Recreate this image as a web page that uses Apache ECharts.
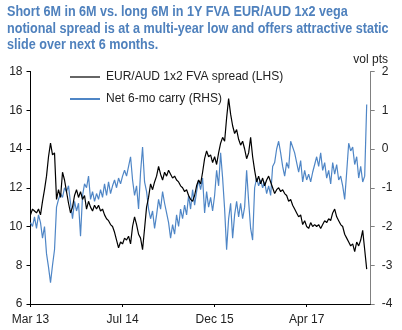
<!DOCTYPE html>
<html>
<head>
<meta charset="utf-8">
<script src="https://cdn.jsdelivr.net/npm/echarts@6/dist/echarts.min.js"></script>
<style>
  html, body { margin: 0; padding: 0; background: #fff; }
  #chart { width: 402px; height: 330px; }
</style>
</head>
<body>
<div id="chart"></div>
<script>
// Date labels shown along the time axis, one every `tickEvery` observations
var tickLabels = ['Mar 13', 'Jul 14', 'Dec 15', 'Apr 17'];
var tickEvery = 46;
var axisSlots = 171;

var headline = 'Short 6M in 6M vs. long 6M in 1Y FVA EUR/AUD 1x2 vega\n' +
  'notional spread is at a multi-year low and offers attractive static\n' +
  'slide over next 6 months.';

// EUR/AUD 1x2 FVA spread (left axis, vol)
var fvaSpread = [
  10.6, 10.9, 10.8, 10.7, 10.9, 10.6, 11.3, 11.9, 12.6, 13.6,
  14.3, 13.7, 13.8, 11.4, 11.9, 11.5, 12.8, 12.4, 11.8, 11.2,
  10.7, 11.0, 11.6, 11.9, 11.5, 11.8, 11.4, 11.6, 10.9, 11.3,
  11.0, 10.8, 11.1, 10.9, 11.1, 10.8, 10.9, 10.6, 10.4, 10.3,
  10.1, 10.0, 9.7, 9.3, 8.9, 9.2, 9.1, 9.4, 9.3, 9.5,
  9.1, 10.0, 10.5, 10.1, 9.6, 9.4, 8.8, 9.9, 11.0, 11.5,
  12.2, 11.9, 12.3, 12.6, 13.1, 12.7, 12.4, 12.8, 12.6, 12.9,
  12.7, 12.5, 12.6, 12.4, 12.3, 12.1, 12.0, 11.8, 11.9, 11.6,
  11.4, 11.3, 11.6, 12.1, 12.4, 12.2, 12.8, 13.5, 13.9, 13.6,
  13.7, 13.3, 13.6, 13.2, 13.8, 14.3, 14.6, 14.4, 15.6, 16.6,
  15.8, 15.2, 14.8, 15.0, 14.5, 14.2, 14.4, 14.0, 13.5, 13.8,
  14.6, 13.6, 12.9, 12.3, 12.6, 12.2, 12.5, 12.1, 12.4, 12.6,
  12.3, 12.0, 11.7, 11.9, 12.0, 11.8, 11.9, 11.7, 11.6, 11.3,
  11.4, 11.1, 10.9, 10.7, 10.5, 10.6, 10.1, 10.3, 10.0, 9.9,
  10.2, 10.0, 10.1, 10.0, 10.1, 9.9, 10.1, 10.3, 10.2, 10.4,
  10.3, 10.7, 10.9, 10.5, 10.3, 10.1, 10.0, 9.6, 9.4, 9.2,
  9.0, 9.1, 8.7, 9.2, 9.0, 9.3, 9.8, 8.8, 7.8
];

// Net 6-month carry (right axis, vol pts)
var netCarry = [
  -1.9, -2.0, -1.75, -2.05, -1.7, -1.9, -2.3, -2.0, -2.7, -3.05,
  -3.45, -3.0, -2.6, -1.5, -1.3, -1.15, -1.25, -1.0, -1.1, -0.95,
  -1.4, -1.8, -1.35, -1.6, -1.4, -2.25, -1.2, -0.9, -1.0, -0.7,
  -1.3, -1.1, -1.35, -1.15, -1.3, -1.05, -1.25, -0.9, -1.2, -0.85,
  -1.15, -0.95, -0.8, -1.0, -0.75, -0.9, -0.7, -0.55, -0.7, -0.45,
  -0.2, -0.8, -1.2, -0.95, -1.55, -0.6, 0.05, -0.85, -1.1, -1.55,
  -1.8, -1.6, -2.05, -1.7, -1.3, -1.55, -1.1, -1.4, -1.65, -1.9,
  -2.3, -1.95, -2.2, -1.7, -2.0, -1.55, -1.8, -1.45, -1.7, -1.2,
  -1.55, -1.05, -1.45, -1.1, -0.8, -1.05, -0.75, -1.65, -1.1, -1.5,
  -1.25, -1.6, -1.2, -0.55, -0.95, -0.1, -0.75, -1.55, -2.6, -1.8,
  -1.4, -2.3, -1.7, -1.35, -1.75, -1.4, -1.8, -1.5, -0.55, -1.35,
  -2.05, -2.35, -1.0, -0.75, -0.95, -0.8, -1.0, -0.85, -1.15, -0.95,
  -1.2, -0.45, -0.35, 0.0, 0.2, -0.1, -0.45, -0.7, -0.35, -0.5,
  0.2, 0.05, -0.1, -0.35, -0.6, -0.3, -0.85, -0.55, -0.8, -0.65,
  -0.85, -0.6, -0.4, -0.2, -0.45, -0.1, -0.55, -0.35, -0.75, -0.55,
  -0.9, -0.35, -0.65, -0.4, -0.8, -0.7, -0.95, -1.3, -0.6, 0.15,
  -0.05, 0.05, -0.4, -0.2, -0.75, -0.45, -0.85, -0.7, 1.15
];

var slots = [];
for (var i = 0; i < axisSlots; i++) slots.push(String(i));

var FONT = '"Liberation Sans", Arial, sans-serif';
var TITLE_BLUE = '#4f81bd';
var CARRY_BLUE = '#4f86c6';

function onTick(index) { return index % tickEvery === 0; }

var chart = echarts.init(document.getElementById('chart'), null, { renderer: 'canvas' });
chart.setOption({
  animation: false,
  backgroundColor: '#fff',
  textStyle: { fontFamily: FONT },
  graphic: [
    {
      type: 'text',
      x: 7,
      y: 4,
      scaleX: 0.9,
      style: {
        text: headline,
        font: 'bold 14px "Liberation Sans", Arial, sans-serif',
        fill: TITLE_BLUE,
        lineHeight: 16.5,
        verticalAlign: 'top'
      }
    }
  ],
  legend: {
    orient: 'vertical',
    left: 70,
    top: 71,
    padding: 0,
    itemGap: 10,
    itemWidth: 30,
    itemHeight: 2,
    icon: 'rect',
    textStyle: { fontFamily: FONT, fontSize: 12, color: '#222', padding: [0, 0, 0, 1] },
    data: [
      { name: 'EUR/AUD 1x2 FVA spread (LHS)', itemStyle: { color: '#666' } },
      { name: 'Net 6-mo carry (RHS)', itemStyle: { color: CARRY_BLUE } }
    ]
  },
  grid: { left: 30.5, right: 31.3, top: 71.5, bottom: 26 },
  xAxis: {
    type: 'category',
    data: slots,
    boundaryGap: false,
    axisLine: { onZero: false, lineStyle: { color: '#000', width: 1 } },
    axisTick: { show: true, length: 3, interval: onTick, lineStyle: { color: '#000' } },
    axisLabel: {
      interval: onTick,
      margin: 10,
      fontFamily: FONT,
      fontSize: 12,
      color: '#222',
      formatter: function (v, idx) { return onTick(idx) ? tickLabels[idx / tickEvery] : ''; }
    },
    splitLine: { show: false }
  },
  yAxis: [
    {
      type: 'value',
      min: 6, max: 18, interval: 2,
      position: 'left',
      axisLine: { show: true, onZero: false, lineStyle: { color: '#000', width: 1 } },
      axisTick: { show: true, length: 4, lineStyle: { color: '#000' } },
      axisLabel: { margin: 8, fontFamily: FONT, fontSize: 12, color: '#222' },
      splitLine: { show: false }
    },
    {
      type: 'value',
      min: -4, max: 2, interval: 1,
      position: 'right',
      name: 'vol pts',
      nameLocation: 'end',
      nameGap: 5,
      nameTextStyle: { fontFamily: FONT, fontSize: 12, color: '#222' },
      axisLine: { show: true, onZero: false, lineStyle: { color: '#808080', width: 1 } },
      axisTick: { show: true, length: 4, lineStyle: { color: '#808080' } },
      axisLabel: { margin: 11, fontFamily: FONT, fontSize: 12, color: '#222' },
      splitLine: { show: false }
    }
  ],
  series: [
    {
      name: 'Net 6-mo carry (RHS)',
      type: 'line',
      yAxisIndex: 1,
      data: netCarry,
      showSymbol: false,
      symbol: 'none',
      lineStyle: { color: CARRY_BLUE, width: 1.2 },
      itemStyle: { color: CARRY_BLUE },
      z: 2
    },
    {
      name: 'EUR/AUD 1x2 FVA spread (LHS)',
      type: 'line',
      yAxisIndex: 0,
      data: fvaSpread,
      showSymbol: false,
      symbol: 'none',
      lineStyle: { color: '#000', width: 1.2 },
      itemStyle: { color: '#000' },
      z: 3
    }
  ]
});
</script>
</body>
</html>
